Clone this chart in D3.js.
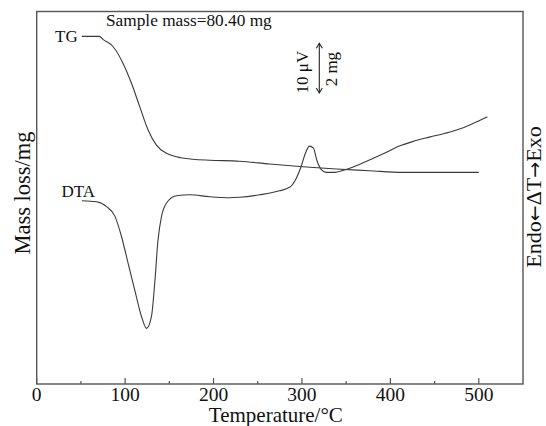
<!DOCTYPE html>
<html>
<head>
<meta charset="utf-8">
<script src="https://cdn.jsdelivr.net/npm/d3@7"></script>
<style>
  body { margin: 0; background: #fff; }
  text { font-family: "Liberation Serif", "Times New Roman", serif; fill: #111; }
</style>
</head>
<body>
<div id="chart"></div>
<script>
// TG curve: temperature (°C) and mass change (mg)
const tgTemp = [51, 71, 75, 86.5, 97.7, 107.2, 116.6, 126, 135.4, 146.7, 158, 176.7, 195.6, 229.5, 263.3, 300.9, 338.6, 376.2, 413.8, 500];
const tgMass = [0, 0, -0.12, -0.42, -1.09, -1.89, -2.84, -3.77, -4.38, -4.71, -4.85, -4.95, -4.99, -5.03, -5.14, -5.25, -5.34, -5.41, -5.48, -5.48];

// DTA curve: temperature (°C) and signal (µV)
const dtaTemp = [51, 67.7, 79, 88.4, 95.9, 103.4, 110.9, 118.5, 124.2, 129.8, 133.5, 137.2, 141.1, 146.7, 158, 173, 195.6, 218.2, 229.5, 252.1, 274.7, 286, 293.5, 299.1, 304, 308.5, 313, 316.7, 321.7, 327.3, 334.8, 349.9, 372.5, 395, 410, 425.1, 443.9, 466.5, 485.3, 500.3, 509.7];
const dtaSignal = [-23.1, -23.3, -24.3, -26.2, -30.3, -35.7, -41.1, -46.4, -48.8, -46.4, -39.7, -31, -26.3, -23.6, -22.1, -21.9, -22.3, -22.5, -22.4, -21.9, -21.1, -20.4, -18.6, -16.2, -13.5, -12.1, -12.5, -14.9, -16.8, -17.4, -17.4, -16.8, -15.2, -13.4, -12.1, -11.2, -10.3, -9.3, -8.2, -7, -6.2];

const majorTicks = [0, 100, 200, 300, 400, 500];
const minorTicks = [50, 150, 250, 350, 450];
const scaleBarMass = 2; // mg, equal to 10 µV

const width = 546, height = 426;
const margin = { top: 11.5, right: 23, bottom: 42, left: 36.7 };
const innerW = width - margin.left - margin.right;
const innerH = height - margin.top - margin.bottom;

const svg = d3.select("#chart").append("svg")
    .attr("width", width)
    .attr("height", height);

const g = svg.append("g")
    .attr("transform", `translate(${margin.left},${margin.top})`);

// Scales
const x = d3.scaleLinear().domain([0, 550]).range([0, innerW]);
const yTG = d3.scaleLinear().domain([-14, 1]).range([innerH, 0]);
const yDTA = d3.scaleLinear().domain([-60, 15]).range([innerH, 0]);

// Frame
g.append("rect")
    .attr("width", innerW)
    .attr("height", innerH)
    .attr("fill", "none")
    .attr("stroke", "#555")
    .attr("stroke-width", 1.4);

// Ticks (inward) and labels
g.selectAll(".major").data(majorTicks).join("line")
    .attr("x1", d => x(d)).attr("x2", d => x(d))
    .attr("y1", innerH).attr("y2", innerH - 6)
    .attr("stroke", "#555").attr("stroke-width", 1.2);
g.selectAll(".minor").data(minorTicks).join("line")
    .attr("x1", d => x(d)).attr("x2", d => x(d))
    .attr("y1", innerH).attr("y2", innerH - 3)
    .attr("stroke", "#555").attr("stroke-width", 1.2);
g.selectAll(".tick-label").data(majorTicks).join("text")
    .attr("x", d => x(d))
    .attr("y", innerH + 17)
    .attr("text-anchor", "middle")
    .style("font-size", "19.5px")
    .text(d => d);

// Axis titles
svg.append("text")
    .attr("x", margin.left + x(275) - 4)
    .attr("y", 422)
    .attr("text-anchor", "middle")
    .style("font-size", "21px")
    .text("Temperature/°C");

svg.append("text")
    .attr("transform", "translate(30,193) rotate(-90)")
    .attr("text-anchor", "middle")
    .style("font-size", "22.5px")
    .text("Mass loss/mg");

const rightTitle = svg.append("text")
    .attr("transform", "translate(541,197) rotate(-90)")
    .attr("text-anchor", "middle")
    .style("font-size", "22px");
rightTitle.append("tspan").text("Endo");
rightTitle.append("tspan").style("font-family", "DejaVu Sans").style("font-size", "19px").text("\u2190");
rightTitle.append("tspan").text("\u0394T");
rightTitle.append("tspan").style("font-family", "DejaVu Sans").style("font-size", "19px").text("\u2192");
rightTitle.append("tspan").text("Exo");

// Curves
const tgLine = d3.line()
    .x((d, i) => x(tgTemp[i]))
    .y(d => yTG(d))
    .curve(d3.curveMonotoneX);
const dtaLine = d3.line()
    .x((d, i) => x(dtaTemp[i]))
    .y(d => yDTA(d))
    .curve(d3.curveMonotoneX);

g.append("path")
    .attr("d", tgLine(tgMass))
    .attr("fill", "none")
    .attr("stroke", "#3a3a3a")
    .attr("stroke-width", 1.1);
g.append("path")
    .attr("d", dtaLine(dtaSignal))
    .attr("fill", "none")
    .attr("stroke", "#3a3a3a")
    .attr("stroke-width", 1.1);

// Labels
svg.append("text").attr("x", 55).attr("y", 41.5).style("font-size", "17px").text("TG");
svg.append("text").attr("x", 61.5).attr("y", 196.5).style("font-size", "17px").text("DTA");
svg.append("text").attr("x", 106).attr("y", 26).style("font-size", "17.3px").text("Sample mass=80.40 mg");

// Scale bar: 2 mg = 10 µV
const barX = 319.3, barTop = 43.3;
const barLen = yTG(0) - yTG(scaleBarMass);
const barBottom = barTop + Math.abs(barLen);
const bar = svg.append("g").attr("stroke", "#222").attr("stroke-width", 1.1).attr("fill", "none");
bar.append("line").attr("x1", barX).attr("x2", barX).attr("y1", barTop).attr("y2", barBottom);
bar.append("path").attr("d", `M${barX - 3},${barTop + 5}L${barX},${barTop}L${barX + 3},${barTop + 5}`);
bar.append("path").attr("d", `M${barX - 3},${barBottom - 5}L${barX},${barBottom}L${barX + 3},${barBottom - 5}`);

svg.append("text")
    .attr("transform", `translate(308,${(barTop + barBottom) / 2 + 4}) rotate(-90)`)
    .attr("text-anchor", "middle")
    .style("font-size", "17px")
    .text("10 \u03BCV");
svg.append("text")
    .attr("transform", `translate(337,${(barTop + barBottom) / 2 + 1}) rotate(-90)`)
    .attr("text-anchor", "middle")
    .style("font-size", "17px")
    .text("2 mg");
</script>
</body>
</html>
